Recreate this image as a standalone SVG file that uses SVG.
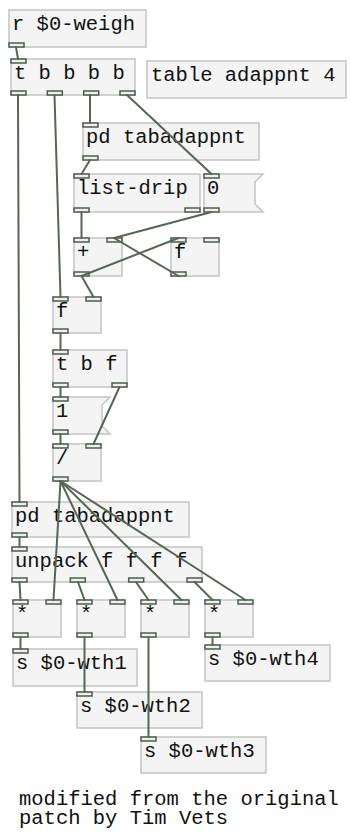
<svg xmlns="http://www.w3.org/2000/svg" width="350" height="834" viewBox="0 0 350 834">
  <style>
    .box { fill: #f3f4f3; stroke: #c4c4c4; stroke-width: 1.5; }
    .io { fill: #eef0ee; stroke: #4d5d4d; stroke-width: 1.5; }
    .t { font-family: "Liberation Mono", "Courier New", monospace; font-size: 20.5px; fill: #111; }
    .c { stroke: #566656; stroke-width: 2; fill: none; stroke-linecap: round; }
  </style>
  <rect width="350" height="834" fill="#ffffff"/>

  <!-- object boxes -->
  <g id="r-weigh" transform="translate(9,10)">
    <rect class="box" width="137" height="37"/>
    <text class="t" x="3" y="20">r $0-weigh</text>
    <rect class="io" x="0" y="33" width="15" height="4"/>
  </g>

  <g id="trigger-bbbb" transform="translate(11,59)">
    <rect class="box" width="124" height="36"/>
    <text class="t" x="3" y="20">t b b b b</text>
    <rect class="io" x="0" y="0" width="15" height="4"/>
    <rect class="io" x="0" y="32" width="15" height="4"/>
    <rect class="io" x="36.3" y="32" width="15" height="4"/>
    <rect class="io" x="72.7" y="32" width="15" height="4"/>
    <rect class="io" x="109" y="32" width="15" height="4"/>
  </g>

  <g id="table-adappnt" transform="translate(147,61)">
    <rect class="box" width="199" height="37"/>
    <text class="t" x="4" y="20">table adappnt 4</text>
  </g>

  <g id="pd-tabadappnt-1" transform="translate(83,123)">
    <rect class="box" width="176" height="37"/>
    <text class="t" x="3" y="20">pd tabadappnt</text>
    <rect class="io" x="0" y="0" width="15" height="4"/>
    <rect class="io" x="0" y="33" width="15" height="4"/>
  </g>

  <g id="list-drip" transform="translate(74,174)">
    <rect class="box" width="126" height="38"/>
    <text class="t" x="3" y="20">list-drip</text>
    <rect class="io" x="0" y="0" width="15" height="4"/>
    <rect class="io" x="0" y="34" width="15" height="4"/>
    <rect class="io" x="111" y="34" width="15" height="4"/>
  </g>

  <g id="msg-0" transform="translate(204,174)">
    <path class="box" d="M0,0 H59 L51,8 V30 L59,38 H0 Z"/>
    <text class="t" x="3" y="20">0</text>
    <rect class="io" x="0" y="0" width="15" height="4"/>
    <rect class="io" x="0" y="34" width="15" height="4"/>
  </g>

  <g id="plus" transform="translate(74,238)">
    <rect class="box" width="48" height="38"/>
    <text class="t" x="3" y="20">+</text>
    <rect class="io" x="0" y="0" width="15" height="4"/>
    <rect class="io" x="33" y="0" width="15" height="4"/>
    <rect class="io" x="0" y="34" width="15" height="4"/>
  </g>

  <g id="float-acc" transform="translate(171,238)">
    <rect class="box" width="48" height="38"/>
    <text class="t" x="3" y="20">f</text>
    <rect class="io" x="0" y="0" width="15" height="4"/>
    <rect class="io" x="33" y="0" width="15" height="4"/>
    <rect class="io" x="0" y="34" width="15" height="4"/>
  </g>

  <g id="float-sum" transform="translate(53,297)">
    <rect class="box" width="48" height="36"/>
    <text class="t" x="3" y="20">f</text>
    <rect class="io" x="0" y="0" width="15" height="4"/>
    <rect class="io" x="33" y="0" width="15" height="4"/>
    <rect class="io" x="0" y="32" width="15" height="4"/>
  </g>

  <g id="trigger-bf" transform="translate(53,350)">
    <rect class="box" width="74" height="37"/>
    <text class="t" x="3" y="20">t b f</text>
    <rect class="io" x="0" y="0" width="15" height="4"/>
    <rect class="io" x="0" y="33" width="15" height="4"/>
    <rect class="io" x="59" y="33" width="15" height="4"/>
  </g>

  <g id="msg-1" transform="translate(53,397)">
    <path class="box" d="M0,0 H57 L49,8 V29 L57,37 H0 Z"/>
    <text class="t" x="3" y="20">1</text>
    <rect class="io" x="0" y="0" width="15" height="4"/>
    <rect class="io" x="0" y="33" width="15" height="4"/>
  </g>

  <g id="divide" transform="translate(53,444)">
    <rect class="box" width="48" height="37"/>
    <text class="t" x="3" y="20">/</text>
    <rect class="io" x="0" y="0" width="15" height="4"/>
    <rect class="io" x="33" y="0" width="15" height="4"/>
    <rect class="io" x="0" y="33" width="15" height="4"/>
  </g>

  <g id="pd-tabadappnt-2" transform="translate(12,502)">
    <rect class="box" width="177" height="35"/>
    <text class="t" x="3" y="20">pd tabadappnt</text>
    <rect class="io" x="0" y="0" width="15" height="4"/>
    <rect class="io" x="0" y="31" width="15" height="4"/>
  </g>

  <g id="unpack" transform="translate(12,547)">
    <rect class="box" width="190" height="35"/>
    <text class="t" x="3" y="20">unpack f f f f</text>
    <rect class="io" x="0" y="0" width="15" height="4"/>
    <rect class="io" x="0" y="31" width="15" height="4"/>
    <rect class="io" x="58.3" y="31" width="15" height="4"/>
    <rect class="io" x="116.7" y="31" width="15" height="4"/>
    <rect class="io" x="175" y="31" width="15" height="4"/>
  </g>

  <g id="mul-1" transform="translate(13,600)">
    <rect class="box" width="48" height="37"/>
    <text class="t" x="3" y="20">*</text>
    <rect class="io" x="0" y="0" width="15" height="4"/>
    <rect class="io" x="33" y="0" width="15" height="4"/>
    <rect class="io" x="0" y="33" width="15" height="4"/>
  </g>
  <g id="mul-2" transform="translate(77,600)">
    <rect class="box" width="48" height="37"/>
    <text class="t" x="3" y="20">*</text>
    <rect class="io" x="0" y="0" width="15" height="4"/>
    <rect class="io" x="33" y="0" width="15" height="4"/>
    <rect class="io" x="0" y="33" width="15" height="4"/>
  </g>
  <g id="mul-3" transform="translate(141,600)">
    <rect class="box" width="48" height="37"/>
    <text class="t" x="3" y="20">*</text>
    <rect class="io" x="0" y="0" width="15" height="4"/>
    <rect class="io" x="33" y="0" width="15" height="4"/>
    <rect class="io" x="0" y="33" width="15" height="4"/>
  </g>
  <g id="mul-4" transform="translate(205,600)">
    <rect class="box" width="48" height="37"/>
    <text class="t" x="3" y="20">*</text>
    <rect class="io" x="0" y="0" width="15" height="4"/>
    <rect class="io" x="33" y="0" width="15" height="4"/>
    <rect class="io" x="0" y="33" width="15" height="4"/>
  </g>

  <g id="send-wth1" transform="translate(13,649)">
    <rect class="box" width="124" height="37"/>
    <text class="t" x="3" y="20">s $0-wth1</text>
    <rect class="io" x="0" y="0" width="15" height="4"/>
  </g>
  <g id="send-wth2" transform="translate(77,692)">
    <rect class="box" width="125" height="36"/>
    <text class="t" x="3" y="20">s $0-wth2</text>
    <rect class="io" x="0" y="0" width="15" height="4"/>
  </g>
  <g id="send-wth3" transform="translate(141,737)">
    <rect class="box" width="125" height="36"/>
    <text class="t" x="3" y="20">s $0-wth3</text>
    <rect class="io" x="0" y="0" width="15" height="4"/>
  </g>
  <g id="send-wth4" transform="translate(205,645)">
    <rect class="box" width="125" height="36"/>
    <text class="t" x="3" y="20">s $0-wth4</text>
    <rect class="io" x="0" y="0" width="15" height="4"/>
  </g>

  <!-- two-line comment -->
  <g id="comment">
    <text class="t" x="19" y="805">modified from the original<tspan x="19" dy="19">patch by Tim Vets</tspan></text>
  </g>

  <!-- patch cords -->
  <g id="connections" class="c">
    <line x1="16" y1="47" x2="18" y2="59"/>
    <line x1="18" y1="95" x2="19.5" y2="502"/>
    <line x1="54.5" y1="95" x2="60.5" y2="297"/>
    <line x1="90" y1="95" x2="90" y2="123"/>
    <line x1="127" y1="95" x2="211.5" y2="174"/>
    <line x1="90" y1="160" x2="81.5" y2="174"/>
    <line x1="81.5" y1="212" x2="81.5" y2="238"/>
    <line x1="211.5" y1="212" x2="114" y2="238"/>
    <line x1="81.5" y1="276" x2="178.5" y2="238"/>
    <line x1="178.5" y1="276" x2="114" y2="238"/>
    <line x1="81.5" y1="276" x2="93.5" y2="297"/>
    <line x1="60.5" y1="333" x2="60.5" y2="350"/>
    <line x1="60.5" y1="387" x2="60.5" y2="397"/>
    <line x1="119.5" y1="387" x2="93.5" y2="444"/>
    <line x1="60.5" y1="434" x2="60.5" y2="444"/>
    <line x1="60.5" y1="481" x2="53.5" y2="600"/>
    <line x1="60.5" y1="481" x2="117.5" y2="600"/>
    <line x1="60.5" y1="481" x2="181.5" y2="600"/>
    <line x1="60.5" y1="481" x2="245.5" y2="600"/>
    <line x1="19.5" y1="537" x2="19.5" y2="547"/>
    <line x1="19.5" y1="582" x2="20.5" y2="600"/>
    <line x1="78" y1="582" x2="84.5" y2="600"/>
    <line x1="136" y1="582" x2="148.5" y2="600"/>
    <line x1="194.5" y1="582" x2="212.5" y2="600"/>
    <line x1="20.5" y1="637" x2="20.5" y2="649"/>
    <line x1="84.5" y1="637" x2="84.5" y2="692"/>
    <line x1="148.5" y1="637" x2="148.5" y2="737"/>
    <line x1="212.5" y1="637" x2="212.5" y2="645"/>
  </g>
</svg>
